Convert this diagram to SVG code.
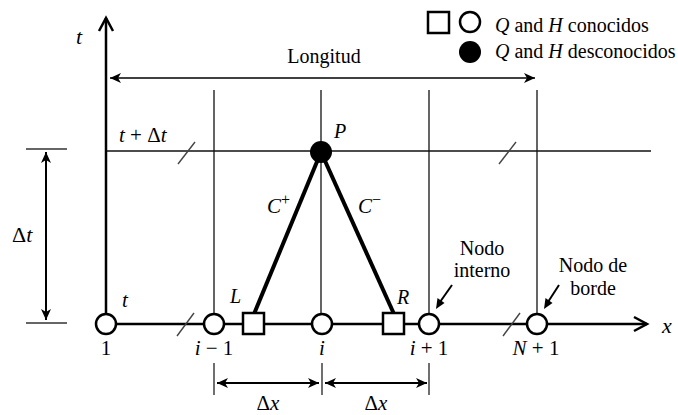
<svg xmlns="http://www.w3.org/2000/svg" width="678" height="415" viewBox="0 0 678 415" font-family="'Liberation Serif', 'DejaVu Serif', serif">
<style>
text{font-family:'Liberation Serif','DejaVu Serif',serif;fill:#000}
.it{font-style:italic}
.lab{font-size:20px}
.ax{stroke:#000;stroke-width:2.5;fill:none}
.grid{stroke:#111;stroke-width:1.3;fill:none}
.char{stroke:#000;stroke-width:4;fill:none}
.dim{stroke:#000;stroke-width:2;fill:none}
.tick{stroke:#333;stroke-width:1.4;fill:none}
.slash{stroke:#444;stroke-width:1.4;fill:none}
.node{fill:#fff;stroke:#000;stroke-width:2.5}
.sq{fill:#fff;stroke:#000;stroke-width:2.5}
</style>
<defs>
<marker id="chev" markerUnits="userSpaceOnUse" markerWidth="20" markerHeight="20" refX="0" refY="0" viewBox="-16 -10 20 20" orient="auto">
<path d="M-13,-7 L0,0 L-13,7" fill="none" stroke="#000" stroke-width="2.5"/>
</marker>
<marker id="barb" markerUnits="userSpaceOnUse" markerWidth="16" markerHeight="12" refX="0" refY="0" viewBox="-12 -6 14 12" orient="auto-start-reverse">
<path d="M0,0 L-11,-5 L-8,0 L-11,5 Z" fill="#000"/>
</marker>
</defs>

<g id="grid">
<line class="grid" x1="214" y1="90" x2="214" y2="324"/>
<line class="grid" x1="321" y1="90" x2="321" y2="324"/>
<line class="grid" x1="429" y1="90" x2="429" y2="324"/>
<line class="grid" x1="537" y1="90" x2="537" y2="324"/>
<line class="grid" x1="106" y1="151" x2="651" y2="151"/>
<line class="slash" x1="178" y1="164" x2="195" y2="142"/>
<line class="slash" x1="499" y1="164" x2="516" y2="142"/>
</g>

<g id="axes">
<line class="ax" x1="106" y1="324" x2="106" y2="18" marker-end="url(#chev)"/>
<line class="ax" x1="106" y1="324" x2="647" y2="324" marker-end="url(#chev)"/>
<line class="slash" x1="177" y1="336" x2="194" y2="313"/>
<line class="slash" x1="503" y1="336" x2="520" y2="313"/>
<text class="it" x="76" y="44" font-size="22">t</text>
<text class="it" x="662" y="333" font-size="22">x</text>
</g>

<g id="connectors">
<line class="char" x1="321" y1="152" x2="254" y2="314"/>
<line class="char" x1="321" y1="152" x2="394" y2="314"/>
<line x1="110" y1="78" x2="535" y2="78" stroke="#000" stroke-width="1.6" marker-start="url(#barb)" marker-end="url(#barb)"/>
<line class="dim" x1="46" y1="152" x2="46" y2="320" marker-start="url(#barb)" marker-end="url(#barb)"/>
<line class="tick" x1="26" y1="149" x2="67" y2="149"/>
<line class="tick" x1="26" y1="323" x2="67" y2="323"/>
<line class="dim" x1="217" y1="383" x2="319" y2="383" marker-start="url(#barb)" marker-end="url(#barb)"/>
<line class="dim" x1="325" y1="383" x2="427" y2="383" marker-start="url(#barb)" marker-end="url(#barb)"/>
<line class="tick" x1="214" y1="363" x2="214" y2="395"/>
<line class="tick" x1="322" y1="363" x2="322" y2="395"/>
<line class="tick" x1="429" y1="363" x2="429" y2="395"/>
<line stroke="#000" stroke-width="2" x1="452" y1="285" x2="440" y2="302"/>
<path d="M436,309 L437.5,298 L444.5,303 Z" fill="#000"/>
<line stroke="#000" stroke-width="2" x1="559" y1="285" x2="548" y2="302"/>
<path d="M544,309 L545.5,298 L552.5,303 Z" fill="#000"/>
</g>

<g id="labels">
<text class="lab" x="324" y="63" text-anchor="middle">Longitud</text>
<text x="119" y="142" font-size="21"><tspan class="it">t</tspan> + Δ<tspan class="it">t</tspan></text>
<text x="12" y="242" font-size="22">Δ<tspan class="it">t</tspan></text>
<text x="268" y="410" font-size="21" text-anchor="middle">Δ<tspan class="it">x</tspan></text>
<text x="376" y="410" font-size="21" text-anchor="middle">Δ<tspan class="it">x</tspan></text>
<text class="it" x="267" y="213" font-size="21">C<tspan font-size="16" dy="-8" font-style="normal">+</tspan></text>
<text class="it" x="358" y="213" font-size="21">C<tspan font-size="16" dy="-8" font-style="normal">−</tspan></text>
<text class="lab" x="482" y="255" text-anchor="middle">Nodo</text>
<text class="lab" x="482" y="277" text-anchor="middle">interno</text>
<text class="lab" x="593" y="272" text-anchor="middle">Nodo de</text>
<text class="lab" x="593" y="295" text-anchor="middle">borde</text>
</g>

<g id="node-P">
<circle cx="321" cy="152" r="11" fill="#000"/>
<text class="lab it" x="334" y="138">P</text>
</g>
<g id="node-L">
<rect class="sq" x="243" y="313" width="21" height="21"/>
<text class="lab it" x="230" y="303">L</text>
</g>
<g id="node-R">
<rect class="sq" x="383" y="313" width="21" height="21"/>
<text class="lab it" x="397" y="304">R</text>
</g>
<g id="node-1">
<circle class="node" cx="106" cy="324" r="10"/>
<text x="106" y="355" font-size="21" text-anchor="middle">1</text>
<text class="it" x="122" y="307" font-size="21">t</text>
</g>
<g id="node-im1">
<circle class="node" cx="214" cy="324" r="10"/>
<text x="214" y="355" font-size="21" text-anchor="middle"><tspan class="it">i</tspan> − 1</text>
</g>
<g id="node-i">
<circle class="node" cx="322" cy="324" r="10"/>
<text class="it" x="322" y="355" font-size="21" text-anchor="middle">i</text>
</g>
<g id="node-ip1">
<circle class="node" cx="429" cy="324" r="10"/>
<text x="429" y="355" font-size="21" text-anchor="middle"><tspan class="it">i</tspan> + 1</text>
</g>
<g id="node-Np1">
<circle class="node" cx="537" cy="324" r="10"/>
<text x="536" y="355" font-size="21" text-anchor="middle"><tspan class="it">N</tspan> + 1</text>
</g>

<g id="legend">
<rect class="sq" x="428" y="12" width="21" height="21"/>
<circle class="node" cx="470" cy="22" r="10"/>
<circle cx="470" cy="52" r="11" fill="#000"/>
<text class="lab" x="495" y="32"><tspan class="it">Q</tspan> and <tspan class="it">H</tspan> conocidos</text>
<text class="lab" x="495" y="58"><tspan class="it">Q</tspan> and <tspan class="it">H</tspan> desconocidos</text>
</g>
</svg>
